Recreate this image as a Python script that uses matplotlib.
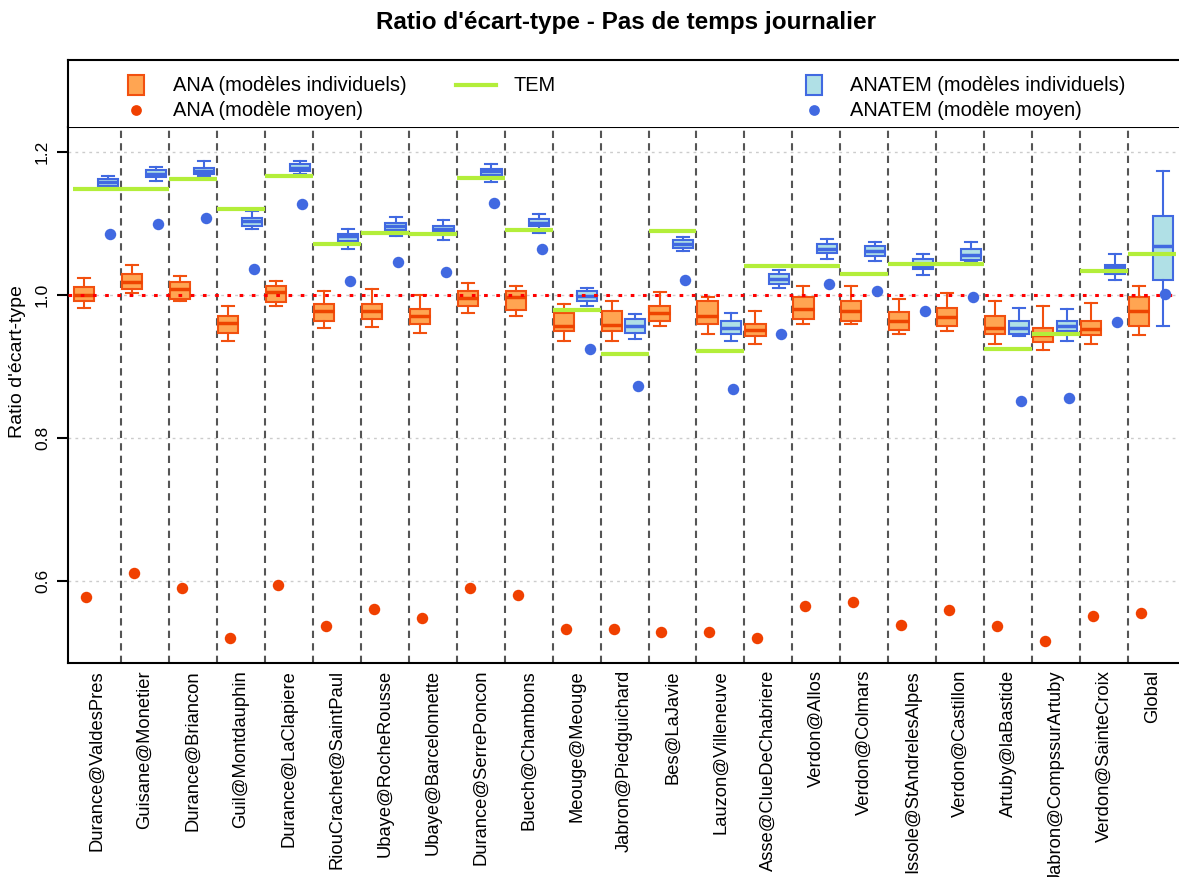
import numpy as np
import matplotlib.pyplot as plt
from matplotlib.patches import Rectangle

plt.rcParams['font.family'] = ['Liberation Sans', 'DejaVu Sans']

stations = ["Durance@ValdesPres", "Guisane@Monetier", "Durance@Briancon", "Guil@Montdauphin",
            "Durance@LaClapiere", "RiouCrachet@SaintPaul", "Ubaye@RocheRousse", "Ubaye@Barcelonnette",
            "Durance@SerrePoncon", "Buech@Chambons", "Meouge@Meouge", "Jabron@Piedguichard",
            "Bes@LaJavie", "Lauzon@Villeneuve", "Asse@ClueDeChabriere", "Verdon@Allos",
            "Verdon@Colmars", "Issole@StAndrelesAlpes", "Verdon@Castillon", "Artuby@laBastide",
            "Jabron@CompssurArtuby", "Verdon@SainteCroix", "Global"]

# ANA (modeles individuels) : boxplot stats
ana_lo = [0.982, 1.003, 0.992, 0.936, 0.985, 0.954, 0.955, 0.947, 0.975, 0.971, 0.936, 0.936,
          0.957, 0.946, 0.931, 0.960, 0.959, 0.946, 0.949, 0.931, 0.923, 0.932, 0.944]
ana_q1 = [0.991, 1.009, 0.995, 0.947, 0.990, 0.964, 0.966, 0.959, 0.985, 0.979, 0.949, 0.950,
          0.964, 0.959, 0.943, 0.966, 0.963, 0.951, 0.956, 0.946, 0.934, 0.944, 0.957]
ana_med = [1.000, 1.018, 1.009, 0.961, 1.004, 0.977, 0.977, 0.970, 0.996, 0.997, 0.957, 0.958,
           0.975, 0.970, 0.951, 0.981, 0.977, 0.963, 0.969, 0.954, 0.944, 0.952, 0.977]
ana_q3 = [1.011, 1.030, 1.018, 0.971, 1.012, 0.987, 0.987, 0.980, 1.005, 1.006, 0.975, 0.977,
          0.985, 0.991, 0.959, 0.997, 0.992, 0.976, 0.982, 0.971, 0.954, 0.963, 0.997]
ana_hi = [1.024, 1.042, 1.026, 0.985, 1.019, 1.006, 1.008, 1.000, 1.017, 1.012, 0.987, 0.992,
          1.004, 0.997, 0.978, 1.012, 1.013, 0.994, 1.003, 0.992, 0.985, 0.989, 1.013]
# ANA (modele moyen)
ana_mean = [0.577, 0.611, 0.590, 0.520, 0.594, 0.536, 0.560, 0.548, 0.590, 0.580, 0.532, 0.532,
            0.528, 0.528, 0.520, 0.564, 0.570, 0.538, 0.559, 0.536, 0.515, 0.550, 0.555]

# ANATEM (modeles individuels)
tem_lo = [1.148, 1.160, 1.166, 1.092, 1.169, 1.065, 1.082, 1.077, 1.158, 1.087, 0.984, 0.938,
          1.061, 0.935, 1.010, 1.050, 1.047, 1.028, 1.047, 0.942, 0.936, 1.021, 0.957]
tem_q1 = [1.152, 1.165, 1.169, 1.096, 1.173, 1.076, 1.091, 1.090, 1.168, 1.096, 0.991, 0.947,
          1.066, 0.946, 1.016, 1.059, 1.054, 1.037, 1.049, 0.946, 0.949, 1.029, 1.021]
tem_med = [1.158, 1.170, 1.173, 1.104, 1.178, 1.082, 1.097, 1.093, 1.173, 1.101, 0.999, 0.957,
           1.072, 0.954, 1.023, 1.065, 1.061, 1.040, 1.056, 0.954, 0.956, 1.039, 1.069]
tem_q3 = [1.162, 1.175, 1.178, 1.108, 1.183, 1.085, 1.101, 1.096, 1.176, 1.107, 1.006, 0.966,
          1.077, 0.963, 1.029, 1.072, 1.069, 1.050, 1.064, 0.964, 0.963, 1.042, 1.110]
tem_hi = [1.166, 1.179, 1.187, 1.117, 1.188, 1.093, 1.109, 1.105, 1.183, 1.113, 1.010, 0.973,
          1.081, 0.975, 1.035, 1.078, 1.074, 1.057, 1.074, 0.982, 0.981, 1.057, 1.173]
# ANATEM (modele moyen)
anatem_mean = [1.085, 1.099, 1.108, 1.036, 1.128, 1.020, 1.046, 1.032, 1.129, 1.065, 0.924, 0.873,
               1.021, 0.868, 0.945, 1.015, 1.006, 0.977, 0.997, 0.852, 0.856, 0.962, 1.002]
# TEM
tem = [1.148, 1.148, 1.162, 1.121, 1.166, 1.072, 1.087, 1.086, 1.164, 1.091, 0.979, 0.918,
       1.089, 0.922, 1.041, 1.041, 1.030, 1.043, 1.044, 0.925, 0.945, 1.034, 1.057]

ana_face, ana_edge, ana_pt = '#FFA552', '#F2500F', '#F04000'
tem_face, tem_edge = '#B0E0E6', '#4169E1'
tem_green = '#B3EE3A'

W, H = 1179, 877
fig = plt.figure(figsize=(W / 100, H / 100), dpi=100)
ax = fig.add_axes([68 / W, (H - 663) / H, 1 - 68 / W, (663 - 127) / H])
leg = fig.add_axes([68 / W, (H - 127) / H, 1 - 68 / W, (127 - 60) / H])

x = np.arange(len(stations))


def make_stats(lo, q1, med, q3, hi):
    return [dict(whislo=a, q1=b, med=c, q3=d, whishi=e, label='')
            for a, b, c, d, e in zip(lo, q1, med, q3, hi)]


# separateurs
for xs in x[:-1] + 0.5:
    ax.axvline(xs, color='#555555', lw=1.5, linestyle=(0, (3.5, 2.5)), zorder=1)

ax.bxp(make_stats(ana_lo, ana_q1, ana_med, ana_q3, ana_hi), positions=x - 0.27, widths=0.42,
       capwidths=0.25, patch_artist=True, showfliers=False, manage_ticks=False, zorder=3,
       boxprops=dict(facecolor=ana_face, edgecolor=ana_edge, linewidth=1.5),
       medianprops=dict(color='#EE4400', linewidth=2.5),
       whiskerprops=dict(color=ana_edge, linewidth=1.5),
       capprops=dict(color=ana_edge, linewidth=1.5))
ax.bxp(make_stats(tem_lo, tem_q1, tem_med, tem_q3, tem_hi), positions=x + 0.225, widths=0.42,
       capwidths=0.25, patch_artist=True, showfliers=False, manage_ticks=False, zorder=3,
       boxprops=dict(facecolor=tem_face, edgecolor=tem_edge, linewidth=1.5),
       medianprops=dict(color=tem_edge, linewidth=2.5),
       whiskerprops=dict(color=tem_edge, linewidth=1.5),
       capprops=dict(color=tem_edge, linewidth=1.5))

ax.hlines(tem, x - 0.5, x + 0.5, color=tem_green, lw=3, zorder=4)
ax.axhline(1.0, color='red', lw=2.2, linestyle=(0, (1.2, 2.8)), zorder=5)
ax.scatter(x - 0.23, ana_mean, s=68, color=ana_pt, linewidths=0, zorder=6)
ax.scatter(x + 0.27, anatem_mean, s=68, color=tem_edge, linewidths=0, zorder=6)

ax.set_xlim(-0.604, 22.56)
ax.set_ylim(0.4846, 1.2353)
ax.set_yticks([0.6, 0.8, 1.0, 1.2])
ax.set_yticklabels(['0.6', '0.8', '1.0', '1.2'])
ax.yaxis.grid(True, color='#CCCCCC', linestyle=(0, (2, 3)), lw=1)
ax.set_axisbelow(True)
ax.set_xticks(x)
ax.set_xticklabels(stations, rotation=90, fontsize=13.2)
ax.tick_params(axis='x', length=0, pad=5)
ax.tick_params(axis='y', length=8, width=1.5, pad=5, labelsize=12.5)
for lab in ax.get_yticklabels():
    lab.set_rotation(90)
    lab.set_va('center')
for side in ['left', 'bottom', 'top']:
    ax.spines[side].set_linewidth(1.5)
ax.spines['right'].set_visible(False)

fig.text(18 / W, 1 - 362 / H, "Ratio d'écart-type", rotation=90, ha='center', va='center', fontsize=14)
fig.text(626 / W, 1 - 22 / H, "Ratio d'écart-type - Pas de temps journalier",
         ha='center', va='center', fontsize=17.5, fontweight='bold')

# legende (coordonnees en pixels)
leg.set_xlim(68, W)
leg.set_ylim(127, 60)
leg.set_xticks([])
leg.set_yticks([])
leg.spines['right'].set_visible(False)
leg.spines['bottom'].set_visible(False)
leg.spines['left'].set_linewidth(1.5)
leg.spines['top'].set_linewidth(1.5)
leg.add_patch(Rectangle((128, 75), 16, 20, facecolor=ana_face, edgecolor=ana_edge, lw=1.5))
leg.scatter([136], [110], s=60, color=ana_pt, linewidths=0)
leg.text(173, 85, 'ANA (modèles individuels)', va='center', fontsize=14.4)
leg.text(173, 111, 'ANA (modèle moyen)', va='center', fontsize=14.4)
leg.plot([456, 496], [85, 85], color=tem_green, lw=3)
leg.text(513, 85, 'TEM', va='center', fontsize=14.4)
leg.add_patch(Rectangle((806, 75), 16, 20, facecolor=tem_face, edgecolor=tem_edge, lw=1.5))
leg.scatter([814], [110], s=60, color=tem_edge, linewidths=0)
leg.text(850, 85, 'ANATEM (modèles individuels)', va='center', fontsize=14.4)
leg.text(850, 111, 'ANATEM (modèle moyen)', va='center', fontsize=14.4)

fig.savefig('out.png', dpi=100)
